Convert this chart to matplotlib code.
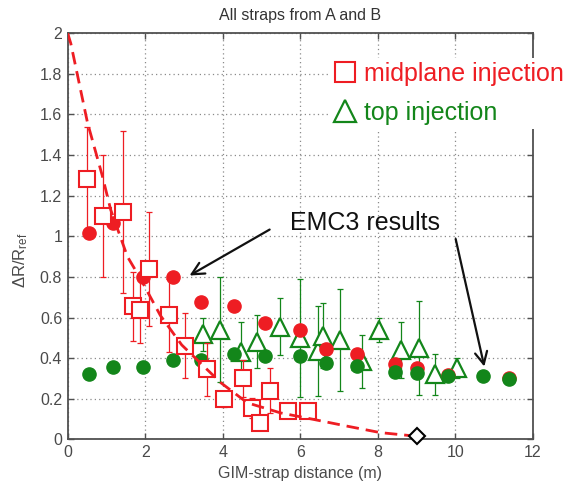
import matplotlib
matplotlib.use("Agg")
import matplotlib.pyplot as plt
from matplotlib.lines import Line2D

plt.rcParams["font.family"] = ["Liberation Sans", "DejaVu Sans"]
plt.rcParams["mathtext.fontset"] = "custom"
plt.rcParams["mathtext.rm"] = "Liberation Sans"
plt.rcParams["mathtext.it"] = "Liberation Sans:italic"

# --- measured, midplane injection (open squares) ---
mid_x = [0.49, 0.92, 1.42, 1.69, 1.86, 2.10, 2.60, 3.03, 3.58, 4.03, 4.52, 4.76, 4.97, 5.23, 5.67, 6.19]
mid_y = [1.28, 1.10, 1.12, 0.655, 0.635, 0.84, 0.61, 0.46, 0.345, 0.20, 0.30, 0.155, 0.08, 0.24, 0.14, 0.14]
mid_err = [0.26, 0.30, 0.40, 0.17, 0.16, 0.28, 0.18, 0.16, 0.13, 0.04, 0.09, 0.05, 0.03, 0.11, 0.02, 0.02]

# --- measured, top injection (open triangles) ---
top_x = [3.49, 3.94, 4.47, 4.87, 5.47, 5.98, 6.45, 6.58, 7.03, 7.59, 8.02, 8.59, 9.05, 9.48, 10.04]
top_y = [0.517, 0.54, 0.43, 0.48, 0.555, 0.50, 0.435, 0.51, 0.49, 0.385, 0.54, 0.44, 0.45, 0.32, 0.35]
top_err = [0.08, 0.26, 0.15, 0.13, 0.14, 0.29, 0.22, 0.16, 0.25, 0.13, 0.06, 0.14, 0.23, 0.10, 0.05]

# --- EMC3 results ---
emc_mid_x = [0.56, 1.17, 1.94, 2.72, 3.43, 4.30, 5.10, 5.98, 6.67, 7.46, 8.45, 9.02, 9.82, 11.37]
emc_mid_y = [1.015, 1.065, 0.80, 0.80, 0.676, 0.657, 0.571, 0.54, 0.447, 0.42, 0.37, 0.35, 0.315, 0.30]
emc_top_x = [0.56, 1.17, 1.94, 2.72, 3.43, 4.30, 5.10, 5.98, 6.67, 7.46, 8.45, 9.02, 9.82, 10.71, 11.37]
emc_top_y = [0.32, 0.355, 0.355, 0.39, 0.39, 0.42, 0.41, 0.41, 0.374, 0.36, 0.33, 0.325, 0.31, 0.31, 0.295]

# --- fitted curve ---
fit_x = [0.0, 0.08, 0.51, 0.89, 1.11, 1.54, 1.88, 2.39, 2.94, 3.94, 4.63, 5.49, 6.34, 7.2, 8.06, 9.0]
fit_y = [2.0, 1.95, 1.56, 1.30, 1.13, 0.90, 0.79, 0.61, 0.465, 0.28, 0.18, 0.13, 0.098, 0.065, 0.033, 0.015]

diamond_x = [9.0]
diamond_y = [0.015]

red = "#ee1d23"
green = "#13861a"
axis_gray = "#505050"

fig = plt.figure(figsize=(5.68, 4.86), dpi=100)
ax = fig.add_axes([67.7 / 568, 1 - 439.3 / 486, 465.3 / 568, 406 / 486])

# top injection
ax.errorbar(top_x, top_y, yerr=top_err, fmt="none", ecolor=green, elinewidth=0.9,
            capsize=2, capthick=0.9, zorder=2)
ax.plot(top_x, top_y, ls="none", marker="^", ms=13.5, mfc="white", mec=green, mew=1.6, zorder=3)

# EMC3
ax.plot(emc_mid_x, emc_mid_y, ls="none", marker="o", ms=9.5, mfc=red, mec=red, zorder=4)
ax.plot(emc_top_x, emc_top_y, ls="none", marker="o", ms=9.5, mfc=green, mec=green, zorder=5)

# midplane injection
ax.errorbar(mid_x, mid_y, yerr=mid_err, fmt="none", ecolor=red, elinewidth=0.9,
            capsize=2, capthick=0.9, zorder=6)
ax.plot(mid_x, mid_y, ls="none", marker="s", ms=11, mfc="white", mec=red, mew=1.5, zorder=7)

# fit
ax.plot(fit_x, fit_y, ls=(0, (4.5, 2.5)), color=red, lw=2.0, zorder=8)
ax.plot(diamond_x, diamond_y, ls="none", marker="D", ms=8.5, mfc="white", mec="black",
        mew=1.5, zorder=9, clip_on=False)

ax.set_xlim(0, 12)
ax.set_ylim(0, 2)
ax.set_xticks(range(0, 13, 2))
ax.set_yticks([0, 0.2, 0.4, 0.6, 0.8, 1, 1.2, 1.4, 1.6, 1.8, 2])
ax.set_yticklabels(["0", "0.2", "0.4", "0.6", "0.8", "1", "1.2", "1.4", "1.6", "1.8", "2"])
ax.grid(True, ls=(0, (1, 2.5)), color="#8a8a8a", lw=0.9)
ax.set_axisbelow(True)
ax.tick_params(direction="in", top=True, right=True, length=4, width=1.0,
               colors=axis_gray, labelsize=11.5, labelcolor="#4a4a4a", pad=4)
for s in ax.spines.values():
    s.set_color(axis_gray)
    s.set_linewidth(1.3)

ax.set_xlabel("GIM-strap distance (m)", fontsize=11.5, color="#4a4a4a")
ax.xaxis.set_label_coords(0.5, -0.066)
ax.set_ylabel(r"$\mathrm{\Delta R/R_{ref}}$", fontsize=12, color="#4a4a4a")
ax.yaxis.set_label_coords(-0.08, 0.44)
ax.text(0.5, 1.043, "All straps from A and B", transform=ax.transAxes,
        ha="center", va="center", fontsize=11.5, color="#333333")

# annotations
ax.text(5.73, 1.065, "EMC3 results", fontsize=18, ha="left", va="center", color="#111111", zorder=10)
ax.annotate("", xy=(3.08, 0.80), xytext=(5.27, 1.04),
            arrowprops=dict(arrowstyle="->", color="#111111", lw=1.6, mutation_scale=22), zorder=10)
ax.annotate("", xy=(10.76, 0.345), xytext=(9.99, 1.0),
            arrowprops=dict(arrowstyle="->", color="#111111", lw=1.6, mutation_scale=22), zorder=10)

# legend
handles = [
    Line2D([], [], ls="none", marker="s", ms=14, mfc="white", mec=red, mew=1.5),
    Line2D([], [], ls="none", marker="^", ms=16, mfc="white", mec=green, mew=1.6),
]
leg = fig.legend(handles, ["midplane injection", "top injection"],
                 loc="upper left", bbox_to_anchor=(330 / 568, 1 - 58 / 486),
                 fontsize=18, frameon=True, handlelength=0.9, handletextpad=0.3,
                 labelspacing=0.62, borderpad=0.15, borderaxespad=0)
leg.get_frame().set_facecolor("white")
leg.get_frame().set_edgecolor("none")
leg.get_frame().set_alpha(1)
leg.get_frame().set_boxstyle("square", pad=0)
leg.texts[0].set_color(red)
leg.texts[1].set_color(green)

fig.savefig("out.png", dpi=100)
